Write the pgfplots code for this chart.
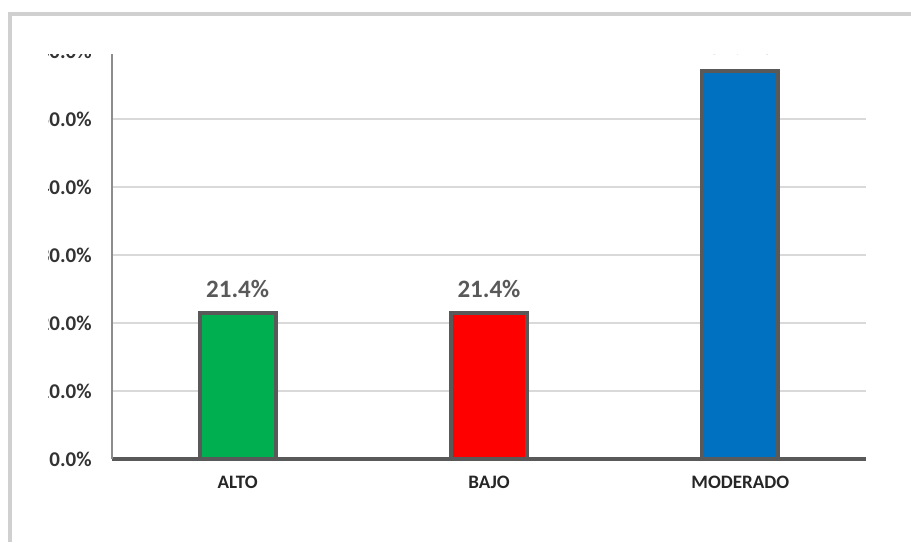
\documentclass[border=0pt]{standalone}
\usepackage{pgfplots}
\pgfplotsset{compat=1.18}
\usepackage{fontspec}
\setmainfont{Carlito}

\definecolor{barborder}{HTML}{595959}
\definecolor{gridgray}{HTML}{D9D9D9}
\definecolor{yaxisgray}{HTML}{8C8C8C}
\definecolor{framegray}{HTML}{D0D0D0}
\definecolor{tickdark}{HTML}{333333}
\definecolor{altogreen}{HTML}{00B050}
\definecolor{bajored}{HTML}{FF0000}
\definecolor{modblue}{HTML}{0070C0}

\begin{document}
\begin{tikzpicture}
\useasboundingbox (0,0) rectangle (455.5pt,271pt);
% outer frame
\draw[line width=1.6pt, color=framegray] (5pt,0pt) -- (5pt,264pt) -- (455.5pt,264pt);
\begin{scope}
\clip (24.25pt,0pt) rectangle (455.5pt,243.5pt);
\begin{axis}[
  at={(56pt,41.5pt)}, anchor=south west,
  scale only axis, width=377pt, height=204pt,
  xmin=-0.5, xmax=2.5, ymin=0, ymax=60,
  xtick={0,1,2}, xticklabels={ALTO,BAJO,MODERADO},
  ytick={0,10,20,30,40,50,60},
  yticklabel={\pgfmathprintnumber[fixed,fixed zerofill,precision=1]{\tick}\%},
  /pgf/number format/assume math mode=true,
  major tick length=0pt, tick style={draw=none},
  ymajorgrids, grid style={color=gridgray, line width=0.6pt},
  axis x line*=bottom, axis y line*=left,
  x axis line style={-, draw=barborder, line width=2pt},
  y axis line style={-, draw=yaxisgray, line width=0.6pt},
  yticklabel style={font=\fontsize{10.5}{12}\selectfont\bfseries, color=tickdark, anchor=east, inner sep=0pt, xshift=-10pt},
  xticklabel style={font=\fontsize{9.5}{11}\selectfont\bfseries, color=black!85, anchor=north, inner sep=0pt, yshift=-8.5pt},
  clip=false,
  nodes near coords={\pgfmathprintnumber[fixed,fixed zerofill,precision=1]{\pgfplotspointmeta}\%},
  every node near coord/.append style={font=\fontsize{12.5}{14}\selectfont\bfseries, color=barborder, anchor=south, inner sep=0pt, yshift=7pt},
]
\addplot[ybar, bar width=38pt, bar shift=0pt, fill=altogreen, draw=barborder, line width=2pt] coordinates {(0,21.4)};
\addplot[ybar, bar width=38pt, bar shift=0pt, fill=bajored, draw=barborder, line width=2pt] coordinates {(1,21.4)};
\addplot[ybar, bar width=38pt, bar shift=0pt, fill=modblue, draw=barborder, line width=2pt] coordinates {(2,57.1)};
\end{axis}
\end{scope}
\end{tikzpicture}
\end{document}
